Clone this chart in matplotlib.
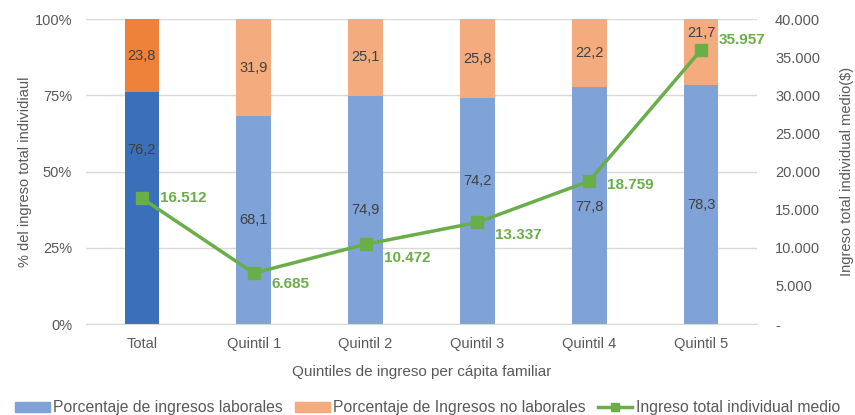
import matplotlib
matplotlib.use("Agg")
import matplotlib.pyplot as plt
from matplotlib.patches import Patch
from matplotlib.lines import Line2D
import numpy as np

plt.rcParams['font.family'] = ['Liberation Sans', 'DejaVu Sans']

categories = ["Total", "Quintil 1", "Quintil 2", "Quintil 3", "Quintil 4", "Quintil 5"]
laborales = [76.2, 68.1, 74.9, 74.2, 77.8, 78.3]
no_laborales = [23.8, 31.9, 25.1, 25.8, 22.2, 21.7]
ingreso = [16512, 6685, 10472, 13337, 18759, 35957]
ingreso_labels = ["16.512", "6.685", "10.472", "13.337", "18.759", "35.957"]
lab_labels = ["76,2", "68,1", "74,9", "74,2", "77,8", "78,3"]
nolab_labels = ["23,8", "31,9", "25,1", "25,8", "22,2", "21,7"]

# label placement (style)
lab_label_y = [57, 34, 37.5, 47, 38.5, 39]
nolab_label_y = [88, 84, 87.5, 87, 88.9, 95.5]
line_label_dy = [0, -8, -10, -9, -3, 7]   # points

c_lab = ["#3A6FB9"] + ["#7FA3D6"] * 5
c_nolab = ["#EE823B"] + ["#F4AC7E"] * 5
green = "#6AAE4A"
txt = "#595959"

fig = plt.figure(figsize=(8.55, 4.15), dpi=100)
ax = fig.add_axes([0.1006, 0.219, 0.7848, 0.735])
x = np.arange(len(categories))
w = 0.31
ax.bar(x, laborales, w, color=c_lab, zorder=2)
ax.bar(x, no_laborales, w, bottom=laborales, color=c_nolab, zorder=2)
for i in range(len(x)):
    ax.text(x[i], lab_label_y[i], lab_labels[i], ha='center', va='center', fontsize=10.5, color='#404040', zorder=3)
    ax.text(x[i], nolab_label_y[i], nolab_labels[i], ha='center', va='center', fontsize=10.5, color='#404040', zorder=3)

ax.set_xlim(-0.5, 5.5)
ax.set_ylim(0, 100)
ax.set_yticks([0, 25, 50, 75, 100])
ax.set_yticklabels(["0%", "25%", "50%", "75%", "100%"])
ax.set_xticks(x)
ax.set_xticklabels(categories)
ax.yaxis.grid(True, color="#D9D9D9", linewidth=1, zorder=0)
ax.set_axisbelow(True)
for s in ["top", "left", "right"]:
    ax.spines[s].set_visible(False)
ax.spines["bottom"].set_color("#D9D9D9")
ax.tick_params(axis='both', length=0, colors=txt, labelsize=10.5)
ax.tick_params(axis='y', pad=10)
ax.tick_params(axis='x', pad=9)
ax.set_xlabel("Quintiles de ingreso per cápita familiar", fontsize=11, color=txt, labelpad=10)
ax.set_ylabel("% del ingreso total individiaul", fontsize=10.5, color=txt)
ax.yaxis.set_label_coords(-0.08, 0.5)

ax2 = ax.twinx()
ax2.plot(x, ingreso, color=green, linewidth=2.5, marker='s', markersize=9, zorder=4)
ax2.set_ylim(0, 40000)
ax2.set_yticks(np.arange(0, 40001, 5000))
ax2.set_yticklabels(["-"] + [f"{v:,}".replace(",", ".") for v in range(5000, 40001, 5000)])
for s in ["top", "left", "right", "bottom"]:
    ax2.spines[s].set_visible(False)
ax2.tick_params(axis='y', length=0, colors=txt, labelsize=10.5, pad=13)
ax2.set_ylabel("Ingreso total individual medio($)", fontsize=10.5, color=txt)
ax2.yaxis.set_label_coords(1.124, 0.5)
for i in range(len(x)):
    ax2.annotate(ingreso_labels[i], (x[i], ingreso[i]), xytext=(13, line_label_dy[i]),
                 textcoords='offset points', ha='left', va='center',
                 fontsize=11, fontweight='bold', color=green, zorder=5)

handles = [Patch(color="#7FA3D6"), Patch(color="#F4AC7E"),
           Line2D([0], [0], color=green, linewidth=2.5, marker='s', markersize=6)]
labels = ["Porcentaje de ingresos laborales", "Porcentaje de Ingresos no laborales",
          "Ingreso total individual medio"]
fig.legend(handles, labels, loc='lower center', bbox_to_anchor=(0.5, -0.035), ncol=3,
           frameon=False, fontsize=11.3, labelcolor=txt, handlelength=2.2, handleheight=0.6,
           handletextpad=0.2, columnspacing=0.8)

fig.savefig("out.png", dpi=100)
